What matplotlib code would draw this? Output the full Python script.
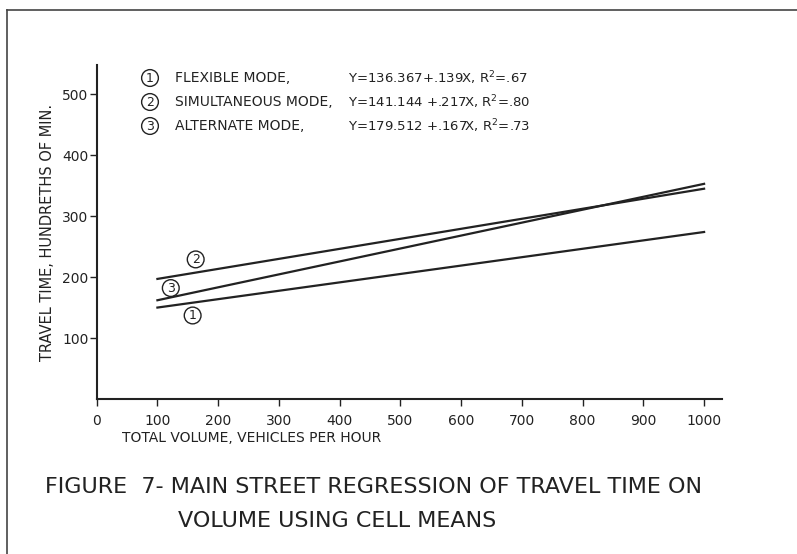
import matplotlib
matplotlib.use("Agg")
import matplotlib.pyplot as plt
from matplotlib.lines import Line2D

# data (end points of the three regression lines)
volume = [100, 1000]
flexible = [150, 274]       # line labelled 1
simultaneous = [197, 345]   # line labelled 2 (as drawn in the figure)
alternate = [162, 353]      # line labelled 3

x_ticks = [0, 100, 200, 300, 400, 500, 600, 700, 800, 900, 1000]
y_ticks = [100, 200, 300, 400, 500]

modes = ["FLEXIBLE MODE,", "SIMULTANEOUS MODE,", "ALTERNATE MODE,"]
equations = ["Y=136.367+.139X, R$^2$=.67",
             "Y=141.144 +.217X, R$^2$=.80",
             "Y=179.512 +.167X, R$^2$=.73"]
mode_nums = ["1", "2", "3"]
# where the circled numbers sit beside the lines (data units)
tag_x = [158, 163, 122]
tag_y = [137, 229, 182]

W, H = 797, 554
plt.rcParams['font.family'] = ['DejaVu Sans']


def px(x, y):
    return x / W, 1 - y / H


fig = plt.figure(figsize=(W / 100, H / 100), dpi=100)
fig.patch.set_facecolor('white')
ax = fig.add_axes([0.1213, 0.2798, 0.785, 0.6029])

ink = '#222222'
for ys in (flexible, simultaneous, alternate):
    ax.plot(volume, ys, color=ink, lw=1.6)

ax.set_xlim(0, 1030)
ax.set_ylim(0, 548)
ax.set_xticks(x_ticks)
ax.set_yticks(y_ticks)
ax.set_xticklabels([str(v) for v in x_ticks], fontsize=10, color=ink)
ax.set_yticklabels([str(v) for v in y_ticks], fontsize=10, color=ink)
ax.tick_params(axis='both', direction='out', length=5, width=1, color=ink)
ax.tick_params(axis='x', pad=6)
ax.tick_params(axis='y', pad=1)
for s in ('top', 'right'):
    ax.spines[s].set_visible(False)
for s in ('left', 'bottom'):
    ax.spines[s].set_linewidth(1.5)
    ax.spines[s].set_color(ink)

ax.set_ylabel("TRAVEL TIME, HUNDRETHS OF MIN.", fontsize=10.5, color=ink)
ax.yaxis.set_label_coords(-0.066, 0.5)
fig.text(*px(122, 438), "TOTAL VOLUME, VEHICLES PER HOUR", fontsize=10,
         color=ink, ha='left', va='center')

# circled numbers beside the lines
for n, tx, ty in zip(mode_nums, tag_x, tag_y):
    ax.text(tx, ty, n, fontsize=9, ha='center', va='center', color=ink,
            bbox=dict(boxstyle='circle,pad=0.15', fc='white', ec=ink, lw=1))

# key text at top of the plot
rows_y = [78, 102, 126]
for n, m, e, ry in zip(mode_nums, modes, equations, rows_y):
    fig.text(*px(150, ry), n, fontsize=9, ha='center', va='center', color=ink,
             bbox=dict(boxstyle='circle,pad=0.15', fc='white', ec=ink, lw=1))
    fig.text(*px(175, ry), m, fontsize=10, ha='left', va='center', color=ink)
    fig.text(*px(348, ry), e, fontsize=9.5, ha='left', va='center', color=ink)

# caption
fig.text(*px(45, 487), "FIGURE  7- MAIN STREET REGRESSION OF TRAVEL TIME ON",
         fontsize=16, ha='left', va='center', color=ink)
fig.text(*px(178, 521), "VOLUME USING CELL MEANS",
         fontsize=16, ha='left', va='center', color=ink)

# page frame (top and left edge of the scanned box)
fig.add_artist(Line2D([7 / W, 1.0], [1 - 10 / H, 1 - 10 / H],
                      transform=fig.transFigure, color='#444444', lw=1.2))
fig.add_artist(Line2D([7 / W, 7 / W], [1 - 10 / H, 0.0],
                      transform=fig.transFigure, color='#444444', lw=1.2))

fig.savefig("out.png", dpi=100, facecolor='white')
